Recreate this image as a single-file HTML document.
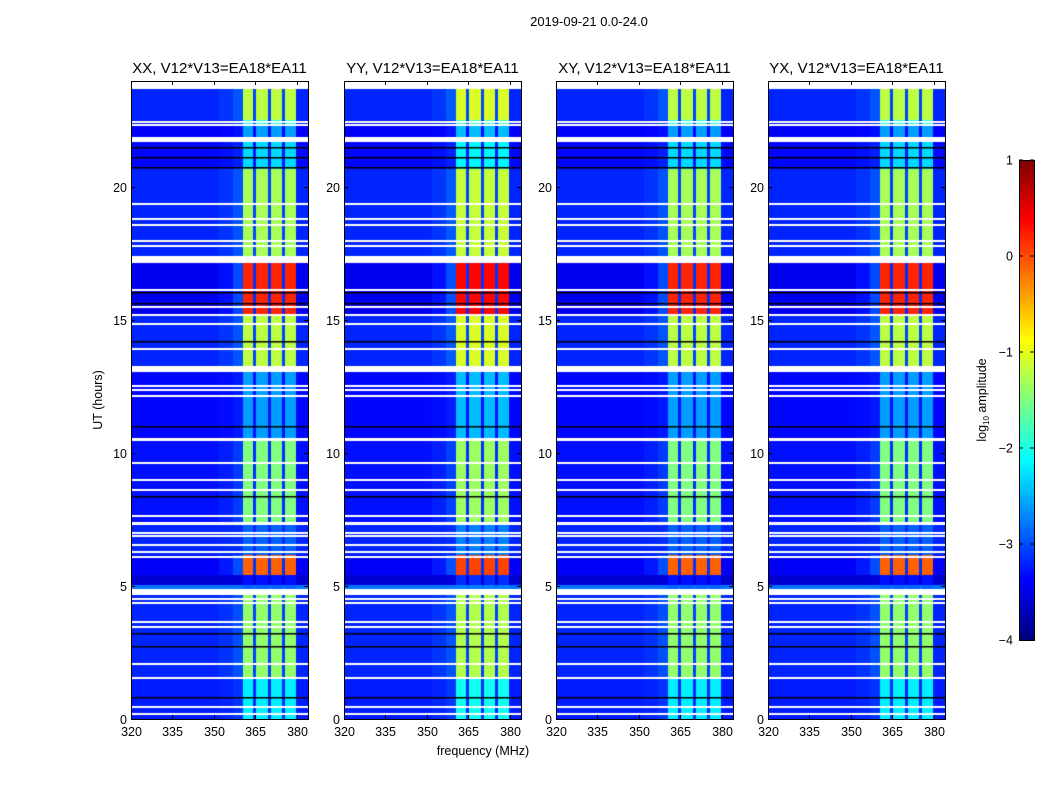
<!DOCTYPE html>
<html><head><meta charset="utf-8"><style>
body{margin:0;background:#fff;width:1050px;height:800px;overflow:hidden;font-family:"Liberation Sans",sans-serif}
#root{position:relative;width:1050px;height:800px}
canvas{position:absolute}
svg{position:absolute;left:0;top:0}
</style></head><body>
<div id="root">
<canvas id="c0"></canvas>
<canvas id="c1"></canvas>
<canvas id="c2"></canvas>
<canvas id="c3"></canvas>
<canvas id="cb"></canvas>
<svg id="ov" width="1050" height="800"></svg>
</div>
<script>
const panelTitles = ["XX, V12*V13=EA18*EA11","YY, V12*V13=EA18*EA11","XY, V12*V13=EA18*EA11","YX, V12*V13=EA18*EA11"];
const panelBandShift = [0, 0.15, 0, 0];
const freqEdges = [320, 352, 357, 360.5, 364.2, 365.2, 369.7, 370.7, 374.8, 375.8, 380, 384];
const freqGain = [0, 0.04, 0.12, 1, 0.08, 1, 0.08, 1, 0.08, 1, 0];
const segStart = [0.0, 1.6, 4.92, 5.05, 5.45, 6.2, 7.42, 10.6, 13.3, 15.25, 17.45, 20.7, 21.9, 22.4, 22.55];
const segEnd   = [1.5, 4.65, 5.14, 5.45, 6.2, 7.28, 10.45, 13.05, 15.15, 17.15, 20.7, 21.7, 22.3, 22.55, 23.68];
const segBg    = [-3.25, -3.2, -2.8, -3.6, -3.4, -3.2, -3.3, -3.35, -3.2, -3.45, -3.2, -3.35, -3.4, -3.3, -3.2];
const segBand  = [-2.2, -1.4, -2.9, -3.3, -0.1, -2.9, -1.5, -2.6, -1.2, 0.2, -1.3, -2.3, -2.6, -2.0, -1.2];
const flagHours = [0.45,0.19,2.06,3.45,3.64,4.35,4.5,6.08,6.3,6.53,6.87,6.98,7.62,8.63,9.0,9.64,12.16,12.38,12.53,13.92,14.86,15.5,16.13,17.79,17.97,18.57,18.8,19.36,22.45];
const darkHours = [20.75,21.13,21.5,16.06,15.65,14.22,11.03,8.37,9.68,3.23,2.74,0.83];
const xTicks = [320,335,350,365,380];
const yTicks = [0,5,10,15,20];
const cbTicks = [1,0,-1,-2,-3,-4];

const panelLeft = [131,344,556,768], PW=177, PT=81, PB=719;
const xmin=320,xmax=384,ymin=0,ymax=24,vmin=-4,vmax=1;
function xs(i,f){return panelLeft[i]+(f-xmin)/(xmax-xmin)*PW;}
function ys(h){return PB-(h-ymin)/(ymax-ymin)*(PB-PT);}
function jet(v){let t=Math.max(0,Math.min(1,(v-vmin)/(vmax-vmin)));const c=x=>Math.round(255*Math.max(0,Math.min(1,1.5-Math.abs(4*t-x))));return `rgb(${c(3)},${c(2)},${c(1)})`;}

for(let p=0;p<4;p++){
  const cv=document.getElementById('c'+p);
  cv.width=PW;cv.height=PB-PT;cv.style.left=panelLeft[p]+'px';cv.style.top=PT+'px';
  const g=cv.getContext('2d');g.fillStyle='#fff';g.fillRect(0,0,PW,PB-PT);
  const X=f=>xs(p,f)-panelLeft[p], Y=h=>ys(h)-PT;
  for(let s=0;s<segStart.length;s++){
    const band=segBand[s]+panelBandShift[p];
    for(let k=0;k<freqGain.length;k++){
      g.fillStyle=jet(segBg[s]+freqGain[k]*(band-segBg[s]));
      const x0=X(freqEdges[k]),x1=X(freqEdges[k+1]),y0=Y(segEnd[s]),y1=Y(segStart[s]);
      g.fillRect(Math.floor(x0),Math.floor(y0),Math.ceil(x1)-Math.floor(x0),Math.ceil(y1)-Math.floor(y0));
    }
  }
  g.fillStyle='#000';
  darkHours.forEach(h=>g.fillRect(0,Math.round(Y(h)),PW,1.5));
  g.fillStyle='#fff';
  flagHours.forEach(h=>g.fillRect(0,Math.round(Y(h))-1,PW,2));
}
const cb=document.getElementById('cb');cb.width=15;cb.height=480;cb.style.left='1019px';cb.style.top='160px';
const cg=cb.getContext('2d');
for(let y=0;y<480;y++){cg.fillStyle=jet(vmax-(y+0.5)/480*(vmax-vmin));cg.fillRect(0,y,15,1);}

const NS='http://www.w3.org/2000/svg', ov=document.getElementById('ov');
function el(tag,attrs,txt){const e=document.createElementNS(NS,tag);for(const k in attrs)e.setAttribute(k,attrs[k]);if(txt!==undefined)e.textContent=txt;ov.appendChild(e);return e;}
let t=el('text',{x:589,y:26,'font-size':13,'text-anchor':'middle'},'2019-09-21 0.0-24.0');


for(let p=0;p<4;p++){
  const L=panelLeft[p];
  let r=el('rect',{x:L+0.5,y:PT+0.5,width:PW,height:PB-PT,fill:'none',stroke:'#000','stroke-width':1});
  
  
  let tt=el('text',{x:L+PW/2,y:73,'font-size':15,'text-anchor':'middle'},panelTitles[p]);
  
  
  xTicks.forEach(f=>{const x=Math.round(xs(p,f))+0.5;
    el('line',{x1:x,x2:x,y1:PB,y2:PB-4,stroke:'#000'});el('line',{x1:x,x2:x,y1:PT,y2:PT+4,stroke:'#000'});
    let l=el('text',{x:x,y:PB+17,'font-size':12.5,'text-anchor':'middle'},String(f));
    
    });
  yTicks.forEach(h=>{const y=Math.round(ys(h))+0.5;
    el('line',{x1:L,x2:L+4,y1:y,y2:y,stroke:'#000'});el('line',{x1:L+PW,x2:L+PW-4,y1:y,y2:y,stroke:'#000'});
    let l=el('text',{x:L-4,y:y+4.5,'font-size':12.5,'text-anchor':'end'},String(h));
    
    });
}
let yl=el('text',{x:102,y:400,'font-size':12.5,'text-anchor':'middle',transform:'rotate(-90 102 400)'},'UT (hours)');


let xl=el('text',{x:483,y:755,'font-size':12.5,'text-anchor':'middle'},'frequency (MHz)');


let cf=el('rect',{x:1019.5,y:160.5,width:15,height:480,fill:'none',stroke:'#000'});


cbTicks.forEach(v=>{const y=160+(vmax-v)/(vmax-vmin)*480;
  el('line',{x1:1019,x2:1023,y1:y,y2:y,stroke:'#000'});el('line',{x1:1030,x2:1034,y1:y,y2:y,stroke:'#000'});
  let l=el('text',{x:1013,y:y+4.5,'font-size':12.5,'text-anchor':'end'},(v<0?'\u2212'+(-v):String(v)));
  
  });
let cl=el('text',{x:986,y:400,'font-size':12.5,'text-anchor':'middle',transform:'rotate(-90 986 400)'});


cl.innerHTML='log<tspan font-size="8" dy="3">10</tspan><tspan dy="-3"> amplitude</tspan>';
</script>
</body></html>
